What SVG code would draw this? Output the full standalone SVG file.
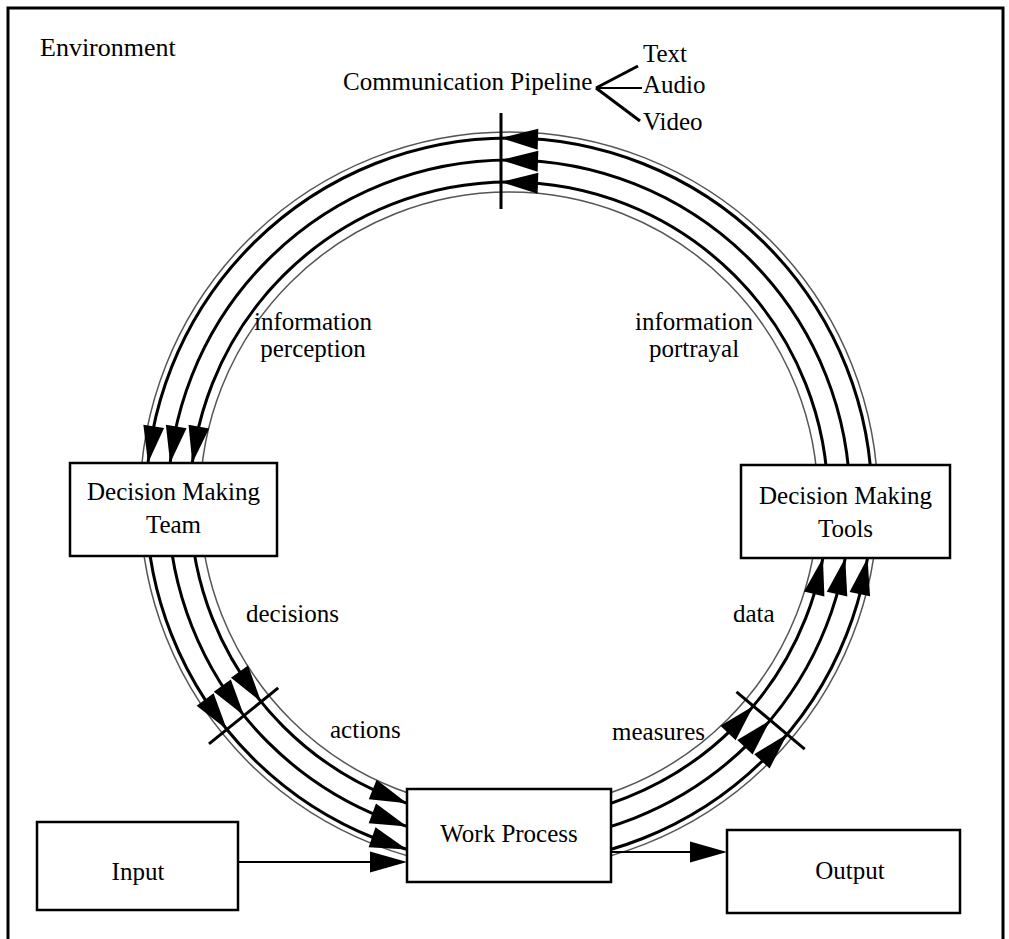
<svg xmlns="http://www.w3.org/2000/svg" xmlns:xlink="http://www.w3.org/1999/xlink" width="1009" height="939" viewBox="0 0 1009 939">
  <style>
    text { font-family: "Liberation Serif", "Times New Roman", serif; font-size: 25px; fill: #000; }
    .box { fill: #fff; stroke: #000; stroke-width: 2.5; }
    .thick { fill: none; stroke: #000; stroke-width: 3; }
    .thin { fill: none; stroke: #555; stroke-width: 1.5; }
    .tick { stroke: #000; stroke-width: 3; }
    .line { stroke: #000; stroke-width: 2; fill: none; }
    .ah { fill: #000; }
  </style>
  <defs>
    <path id="ah" class="ah" d="M0,0 L-37,-10.5 L-37,10.5 Z"/>
  </defs>
  <rect width="1009" height="939" fill="#fff"/>

  <g id="environment">
    <path d="M8,939 V8 H1003 V939" fill="none" stroke="#000" stroke-width="3"/>
    <text x="40" y="56" style="font-size:26px">Environment</text>
  </g>

  <g id="connectors">
    <circle class="thin" cx="509" cy="501" r="369"/>
    <circle class="thick" cx="509" cy="501" r="363"/>
    <circle class="thick" cx="509" cy="501" r="341"/>
    <circle class="thick" cx="509" cy="501" r="319"/>
    <circle class="thin" cx="509" cy="501" r="309"/>
    <line class="tick" x1="501" y1="113" x2="501" y2="209"/>
    <line class="tick" x1="278.2" y1="687.9" x2="209" y2="743.9"/>
    <line class="tick" x1="736.5" y1="691.9" x2="804.7" y2="749.1"/>
    <use xlink:href="#ah" transform="translate(501,138.1) rotate(-178.3)"/>
    <use xlink:href="#ah" transform="translate(501,160.1) rotate(-178.2)"/>
    <use xlink:href="#ah" transform="translate(501,182.1) rotate(-178.1)"/>
    <use xlink:href="#ah" transform="translate(148,463) rotate(98.9)"/>
    <use xlink:href="#ah" transform="translate(170.1,463) rotate(99.5)"/>
    <use xlink:href="#ah" transform="translate(192.3,463) rotate(100.2)"/>
    <use xlink:href="#ah" transform="translate(226.9,729.4) rotate(53.9)"/>
    <use xlink:href="#ah" transform="translate(244,715.6) rotate(54.1)"/>
    <use xlink:href="#ah" transform="translate(261.1,701.7) rotate(54.3)"/>
    <use xlink:href="#ah" transform="translate(407,849.4) rotate(19.2)"/>
    <use xlink:href="#ah" transform="translate(407,826.4) rotate(20.5)"/>
    <use xlink:href="#ah" transform="translate(407,803.3) rotate(22)"/>
    <use xlink:href="#ah" transform="translate(787.1,734.3) rotate(-47.1)"/>
    <use xlink:href="#ah" transform="translate(770.2,720.2) rotate(-46.9)"/>
    <use xlink:href="#ah" transform="translate(753.4,706.1) rotate(-46.7)"/>
    <use xlink:href="#ah" transform="translate(867.5,558) rotate(-78)"/>
    <use xlink:href="#ah" transform="translate(845.2,558) rotate(-77.3)"/>
    <use xlink:href="#ah" transform="translate(822.9,558) rotate(-76.4)"/>
    <line class="line" x1="238" y1="862" x2="375" y2="862"/>
    <use xlink:href="#ah" transform="translate(407,862)"/>
    <line class="line" x1="611" y1="852" x2="695" y2="852"/>
    <use xlink:href="#ah" transform="translate(727,852)"/>
  </g>

  <g id="node-team">
    <rect class="box" x="70" y="463" width="207" height="93"/>
    <text x="173.5" y="500" text-anchor="middle">Decision Making</text>
    <text x="173.5" y="533" text-anchor="middle">Team</text>
  </g>

  <g id="node-tools">
    <rect class="box" x="741" y="465" width="209" height="93"/>
    <text x="845.5" y="504" text-anchor="middle">Decision Making</text>
    <text x="845.5" y="537" text-anchor="middle">Tools</text>
  </g>

  <g id="node-work-process">
    <rect class="box" x="407" y="789" width="204" height="93"/>
    <text x="509" y="842" text-anchor="middle">Work Process</text>
  </g>

  <g id="node-input">
    <rect class="box" x="37" y="822" width="201" height="88"/>
    <text x="138" y="880" text-anchor="middle">Input</text>
  </g>

  <g id="node-output">
    <rect class="box" x="727" y="830" width="233" height="83"/>
    <text x="850" y="879" text-anchor="middle">Output</text>
  </g>

  <g id="node-communication-pipeline">
    <text x="343" y="90">Communication Pipeline</text>
    <line x1="596" y1="88" x2="638" y2="66" stroke="#000" stroke-width="3"/>
    <line x1="596" y1="88" x2="642" y2="88" stroke="#000" stroke-width="2"/>
    <line x1="596" y1="88" x2="640" y2="121" stroke="#000" stroke-width="3"/>
    <text x="643" y="62">Text</text>
    <text x="643" y="93">Audio</text>
    <text x="643" y="130">Video</text>
  </g>

  <g id="labels">
    <text x="313" y="330" text-anchor="middle">information</text>
    <text x="313" y="357" text-anchor="middle">perception</text>
    <text x="694" y="330" text-anchor="middle">information</text>
    <text x="694" y="357" text-anchor="middle">portrayal</text>
    <text x="246" y="622">decisions</text>
    <text x="733" y="622">data</text>
    <text x="330" y="738">actions</text>
    <text x="612" y="740">measures</text>
  </g>
</svg>
